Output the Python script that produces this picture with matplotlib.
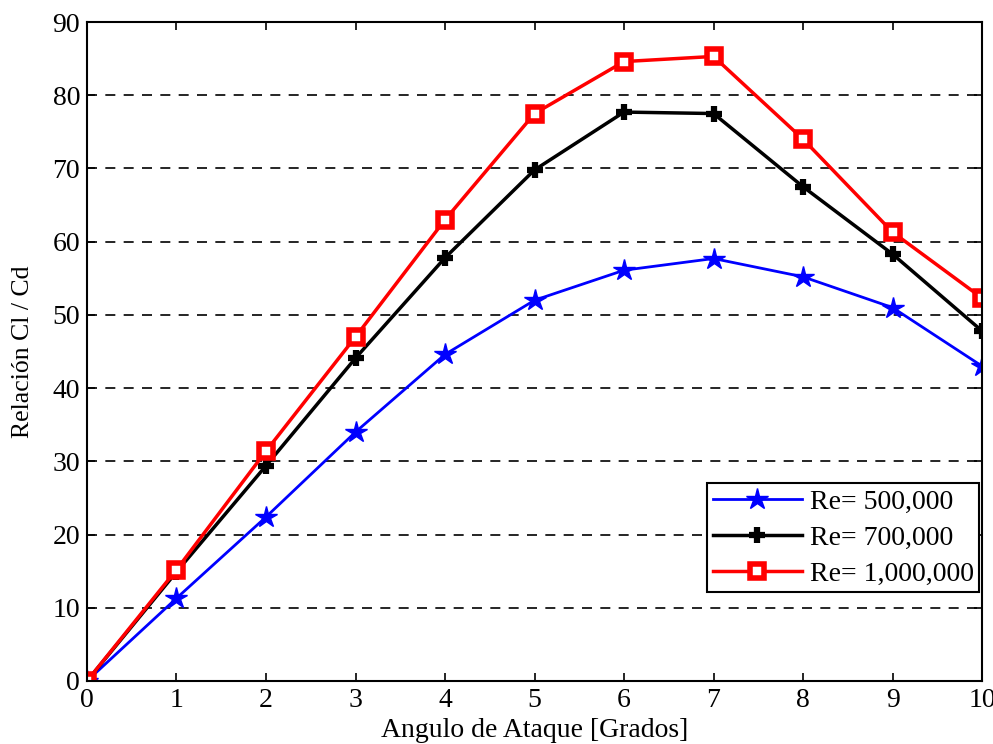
import matplotlib.pyplot as plt

plt.rcParams['font.family'] = ['Liberation Serif', 'DejaVu Serif']

angulo = [0, 1, 2, 3, 4, 5, 6, 7, 8, 9, 10]
re_500k = [0, 11.3, 22.4, 34.0, 44.6, 52.0, 56.1, 57.7, 55.2, 51.0, 43.0]
re_700k = [0, 14.9, 29.4, 44.1, 57.8, 69.8, 77.7, 77.5, 67.5, 58.3, 47.8]
re_1m = [0, 15.2, 31.4, 47.0, 63.0, 77.5, 84.6, 85.3, 74.0, 61.3, 52.3]

fig = plt.figure(figsize=(9.93, 7.44), dpi=100)
ax = fig.add_axes([0.0876, 0.0847, 0.9014, 0.8857])

ax.plot(angulo, re_500k, color='blue', lw=2, marker='*', ms=16,
        label='Re= 500,000')
ax.plot(angulo, re_700k, color='black', lw=2.5, marker='+', ms=11, mew=4.5,
        label='Re= 700,000')
ax.plot(angulo, re_1m, color='red', lw=2.5, marker='s', ms=10, mew=4,
        mfc='white', label='Re= 1,000,000')

ax.set_xlim(0, 10)
ax.set_ylim(0, 90)
ax.set_xticks(range(0, 11))
ax.set_yticks(range(0, 91, 10))
ax.yaxis.grid(True, linestyle=(0, (6, 5)), color='black', lw=1.2)
ax.tick_params(direction='in', top=True, right=True, labelsize=20,
               length=6, width=1.2, pad=5)
for s in ax.spines.values():
    s.set_linewidth(1.5)

ax.set_xlabel('Angulo de Ataque [Grados]', fontsize=20, labelpad=4)
ax.set_ylabel('Relación Cl / Cd', fontsize=18.5, labelpad=13)

leg = ax.legend(loc='lower right', bbox_to_anchor=(0.997, 0.135),
                borderaxespad=0, fontsize=20, fancybox=False,
                edgecolor='black', framealpha=1, handlelength=3.2,
                handletextpad=0.3, labelspacing=0.38, borderpad=0.2)
leg.get_frame().set_linewidth(1.5)

fig.savefig('out.png', dpi=100)
